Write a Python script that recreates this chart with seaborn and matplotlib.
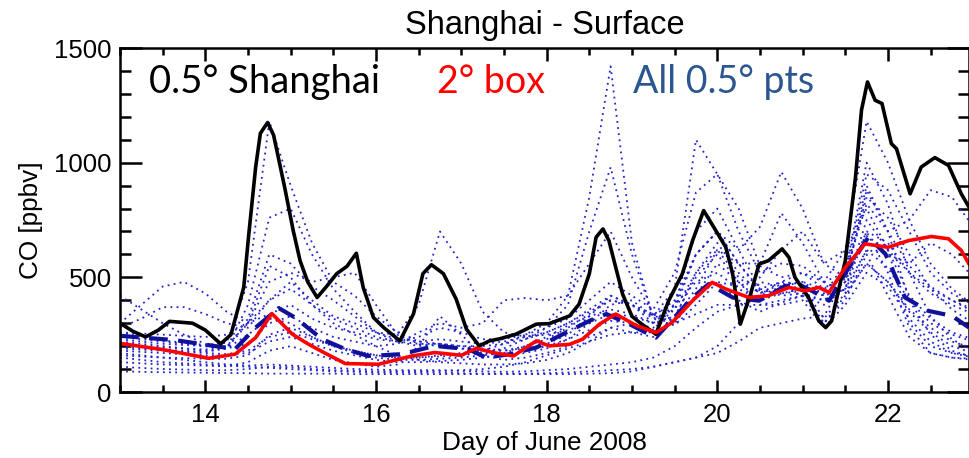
import numpy as np
import pandas as pd
import matplotlib
matplotlib.use("Agg")
import matplotlib.pyplot as plt
import seaborn as sns
from matplotlib.ticker import MultipleLocator

# ---------------- data ----------------
# 0.5 deg Shanghai grid cell (black solid)
shanghai_days = [13.0, 13.15, 13.3, 13.45, 13.58, 13.85, 14.0, 14.18, 14.3, 14.45, 14.51, 14.59,
                 14.645, 14.73, 14.8, 14.93, 15.03, 15.11, 15.2, 15.31, 15.42, 15.54, 15.66, 15.77,
                 15.85, 15.97, 16.09, 16.28, 16.44, 16.55, 16.65, 16.79, 16.94, 17.06, 17.21,
                 17.33, 17.45, 17.64, 17.88, 18.03, 18.27, 18.38, 18.5, 18.58, 18.66, 18.73,
                 18.81, 18.89, 19.0, 19.1, 19.28, 19.43, 19.59, 19.71, 19.84, 19.96, 20.1,
                 20.18, 20.27, 20.39, 20.49, 20.6, 20.76, 20.84, 20.91, 21.07, 21.19, 21.27,
                 21.34, 21.5, 21.62, 21.69, 21.76, 21.85, 21.93, 22.04, 22.1, 22.26, 22.39,
                 22.55, 22.71, 22.86, 22.95]
shanghai_co = [300, 265, 240, 270, 308, 300, 270, 210, 250, 456, 690, 981,
               1128, 1175, 1120, 892, 704, 573, 480, 412, 460, 516, 548, 605,
               456, 325, 281, 223, 341, 516, 555, 516, 405, 274, 201,
               223, 232, 252, 296, 298, 332, 383, 515, 675, 711, 660,
               543, 427, 330, 300, 252, 398, 515, 660, 791, 718, 631,
               515, 296, 427, 558, 573, 624, 587, 500, 412, 310, 281,
               310, 573, 937, 1229, 1352, 1272, 1258, 1083, 1061, 864, 981,
               1022, 988, 864, 806]

# 2 deg box average (red solid)
box_days = [13.0, 13.5, 14.04, 14.35, 14.59, 14.78, 15.02, 15.21, 15.4, 15.64, 16.03, 16.42,
            16.69, 17.0, 17.18, 17.37, 17.61, 17.88, 18.03, 18.27, 18.42, 18.62, 18.81,
            19.05, 19.28, 19.47, 19.71, 19.94, 20.1, 20.37, 20.6, 20.84, 21.03, 21.19,
            21.31, 21.5, 21.73, 22.0, 22.24, 22.51, 22.71, 22.86, 22.95]
box_co = [212, 185, 147, 165, 237, 342, 252, 208, 170, 124, 121, 157,
          172, 160, 191, 172, 157, 223, 201, 208, 230, 296, 340,
          290, 259, 303, 398, 478, 449, 412, 420, 456, 441, 456,
          434, 543, 646, 631, 660, 678, 668, 617, 558]

# mean of all 0.5 deg points (blue dashed)
mean_days = [13.0, 13.65, 14.35, 14.59, 14.86, 15.05, 15.37, 15.64, 15.91, 16.3, 16.69, 17.08,
             17.29, 17.57, 17.88, 18.19, 18.5, 18.7, 18.97, 19.28, 19.71, 19.9, 20.18,
             20.49, 20.8, 20.99, 21.11, 21.31, 21.54, 21.77, 21.97, 22.2, 22.47, 22.75, 22.95]
mean_co = [245, 226, 187, 281, 366, 325, 230, 187, 157, 165, 201, 187,
           150, 165, 194, 252, 310, 340, 296, 237, 412, 471, 412,
           398, 463, 463, 441, 398, 543, 675, 602, 412, 354, 332, 281]

# individual 0.5 deg points (blue dotted), on a 6-hourly grid
grid_days = [13.0 + 0.25 * k for k in range(41)]
points_co = [
    [230, 220, 210, 205, 200, 190, 250, 320, 300, 240, 200, 180, 160, 150, 150, 160, 170, 180, 210, 250, 300,
     420, 850, 1420, 650, 320, 290, 380, 480, 400, 350, 390, 420, 380, 450, 750, 620, 420, 320, 260, 230],
    [260, 240, 225, 215, 205, 215, 480, 1180, 900, 650, 480, 420, 330, 260, 220, 210, 200, 190, 180, 190, 210,
     250, 330, 420, 380, 300, 320, 520, 650, 520, 430, 470, 480, 420, 520, 950, 880, 700, 520, 430, 380],
    [220, 210, 200, 190, 180, 190, 380, 760, 800, 600, 450, 350, 260, 220, 200, 210, 190, 170, 160, 170, 190,
     230, 300, 380, 400, 330, 450, 1100, 950, 800, 550, 500, 520, 450, 500, 850, 760, 600, 450, 360, 300],
    [200, 190, 185, 180, 175, 190, 320, 600, 560, 460, 400, 330, 260, 250, 380, 700, 560, 350, 260, 240, 250,
     270, 300, 340, 330, 300, 380, 600, 700, 560, 450, 480, 470, 430, 480, 700, 650, 520, 430, 380, 340],
    [300, 380, 460, 480, 430, 350, 300, 340, 380, 320, 280, 260, 230, 220, 240, 280, 260, 230, 230, 250, 280,
     320, 400, 480, 420, 360, 520, 870, 950, 700, 520, 560, 550, 480, 520, 820, 700, 550, 460, 400, 360],
    [280, 320, 370, 370, 340, 300, 280, 400, 480, 400, 330, 300, 260, 230, 220, 230, 220, 210, 220, 240, 260,
     300, 360, 420, 380, 330, 400, 600, 700, 620, 720, 960, 800, 560, 500, 680, 620, 520, 450, 400, 350],
    [210, 200, 195, 190, 185, 200, 300, 480, 520, 480, 500, 520, 380, 250, 210, 200, 190, 180, 180, 200, 230,
     280, 340, 400, 380, 320, 360, 520, 620, 500, 430, 480, 520, 480, 620, 1180, 1000, 750, 560, 450, 380],
    [150, 140, 130, 125, 120, 115, 110, 105, 100, 95, 90, 88, 85, 85, 85, 85, 82, 80, 80, 80, 82,
     85, 90, 95, 100, 110, 130, 150, 170, 220, 280, 300, 320, 330, 500, 900, 700, 750, 880, 850, 720],
    [170, 160, 150, 140, 130, 120, 115, 120, 115, 110, 105, 100, 98, 95, 95, 95, 92, 90, 88, 90, 95,
     100, 110, 120, 130, 150, 200, 280, 350, 380, 420, 460, 480, 450, 520, 1000, 820, 520, 330, 230, 180],
    [190, 185, 180, 175, 170, 165, 180, 240, 260, 230, 200, 180, 160, 150, 150, 155, 160, 170, 190, 230, 280,
     380, 700, 980, 600, 330, 320, 450, 620, 560, 560, 780, 650, 480, 430, 560, 480, 360, 280, 220, 190],
    [240, 230, 220, 210, 200, 190, 210, 300, 330, 280, 240, 220, 200, 210, 260, 300, 280, 300, 400, 410, 400,
     420, 560, 700, 500, 340, 300, 420, 560, 480, 400, 450, 460, 320, 430, 620, 540, 400, 300, 250, 220],
    [180, 175, 170, 165, 160, 160, 170, 220, 240, 210, 180, 160, 140, 130, 130, 135, 140, 150, 160, 180, 200,
     230, 270, 310, 300, 270, 380, 700, 800, 620, 450, 420, 430, 400, 480, 880, 700, 400, 250, 180, 150],
    [130, 125, 120, 118, 115, 112, 130, 180, 200, 170, 140, 125, 110, 120, 200, 330, 250, 160, 140, 150, 170,
     200, 240, 280, 260, 240, 330, 500, 600, 480, 380, 380, 400, 280, 380, 520, 460, 320, 220, 170, 150],
    [260, 255, 250, 245, 240, 250, 300, 400, 450, 380, 320, 280, 240, 220, 210, 210, 200, 200, 210, 230, 260,
     300, 350, 400, 380, 340, 380, 480, 520, 450, 400, 430, 450, 420, 450, 620, 600, 560, 650, 600, 500],
    [110, 105, 100, 98, 95, 95, 100, 110, 108, 100, 95, 92, 90, 90, 90, 92, 95, 100, 110, 130, 160,
     190, 220, 250, 260, 260, 300, 340, 380, 380, 380, 400, 420, 400, 450, 700, 520, 280, 170, 150, 140],
    [90, 88, 86, 85, 84, 83, 82, 80, 80, 80, 80, 78, 78, 78, 78, 78, 78, 78, 78, 78, 78,
     78, 80, 82, 90, 110, 130, 150, 200, 300, 480, 460, 420, 300, 400, 600, 420, 240, 170, 150, 145],
    [420, 360, 300, 250, 210, 190, 300, 550, 500, 380, 300, 250, 200, 160, 140, 130, 125, 120, 120, 125, 140,
     170, 220, 280, 300, 280, 360, 600, 700, 560, 440, 430, 440, 300, 420, 560, 480, 350, 260, 200, 170],
    [160, 155, 150, 148, 145, 145, 160, 250, 280, 240, 200, 170, 150, 140, 140, 145, 150, 160, 170, 200, 240,
     290, 330, 360, 340, 300, 330, 420, 480, 460, 500, 620, 700, 560, 620, 800, 620, 300, 200, 170, 160],
]

x_ticks = [14, 16, 18, 20, 22]
y_ticks = [0, 500, 1000, 1500]

# ---------------- plot ----------------
sns.set_style("ticks")
plt.rcParams["font.family"] = ["Liberation Sans", "DejaVu Sans"]
plt.rcParams["text.color"] = "black"
plt.rcParams["axes.labelcolor"] = "black"
plt.rcParams["xtick.color"] = "black"
plt.rcParams["ytick.color"] = "black"
plt.rcParams["axes.edgecolor"] = "black"

fig = plt.figure(figsize=(9.69, 4.58), dpi=100)
ax = fig.add_axes([120 / 969, 1 - 392 / 458, 1 - 120 / 969, (392 - 48) / 458])

for vals in points_co:
    sns.lineplot(x=grid_days, y=vals, ax=ax, color="#2222cc", linewidth=1.3,
                 linestyle=(0, (1, 2.4)), estimator=None, sort=False)
sns.lineplot(x=mean_days, y=mean_co, ax=ax, color="#10109a", linewidth=3.0,
             linestyle=(0, (4.5, 2.5)), estimator=None, sort=False)
sns.lineplot(x=shanghai_days, y=shanghai_co, ax=ax, color="black", linewidth=2.6,
             estimator=None, sort=False)
sns.lineplot(x=box_days, y=box_co, ax=ax, color="#ff0000", linewidth=2.6,
             estimator=None, sort=False)

ax.set_xlim(13, 22.95)
ax.set_ylim(0, 1500)
ax.set_xticks(x_ticks)
ax.set_yticks(y_ticks)
ax.xaxis.set_minor_locator(MultipleLocator(0.5))
ax.yaxis.set_minor_locator(MultipleLocator(100))
ax.tick_params(which="both", direction="in", top=True, right=True, labelsize=18.5, width=1.8,
               color="black", labelcolor="black")
ax.tick_params(axis="y", which="major", length=16, pad=6)
ax.tick_params(axis="y", which="minor", length=8)
ax.tick_params(axis="x", which="major", length=9, pad=8)
ax.tick_params(axis="x", which="minor", length=5)
for s in ax.spines.values():
    s.set_linewidth(1.8)
    s.set_color("black")

ax.set_xlabel("Day of June 2008", fontsize=18.8, labelpad=3, color="black")
ax.set_ylabel("CO [ppbv]", fontsize=18.8, labelpad=8, color="black")
ax.set_title("Shanghai - Surface", fontsize=23.5, pad=10, color="black")

ann_font = ["Lato", "DejaVu Sans"]
ax.text(13.345, 1303, "0.5° Shanghai", color="black", fontsize=27.5, family=ann_font, va="baseline")
ax.text(16.71, 1303, "2° box", color="#ff0000", fontsize=27, family=ann_font, va="baseline")
ax.text(19.01, 1303, "All 0.5° pts", color="#2b5690", fontsize=27, family=ann_font, va="baseline")

fig.savefig("out.png", dpi=100)
